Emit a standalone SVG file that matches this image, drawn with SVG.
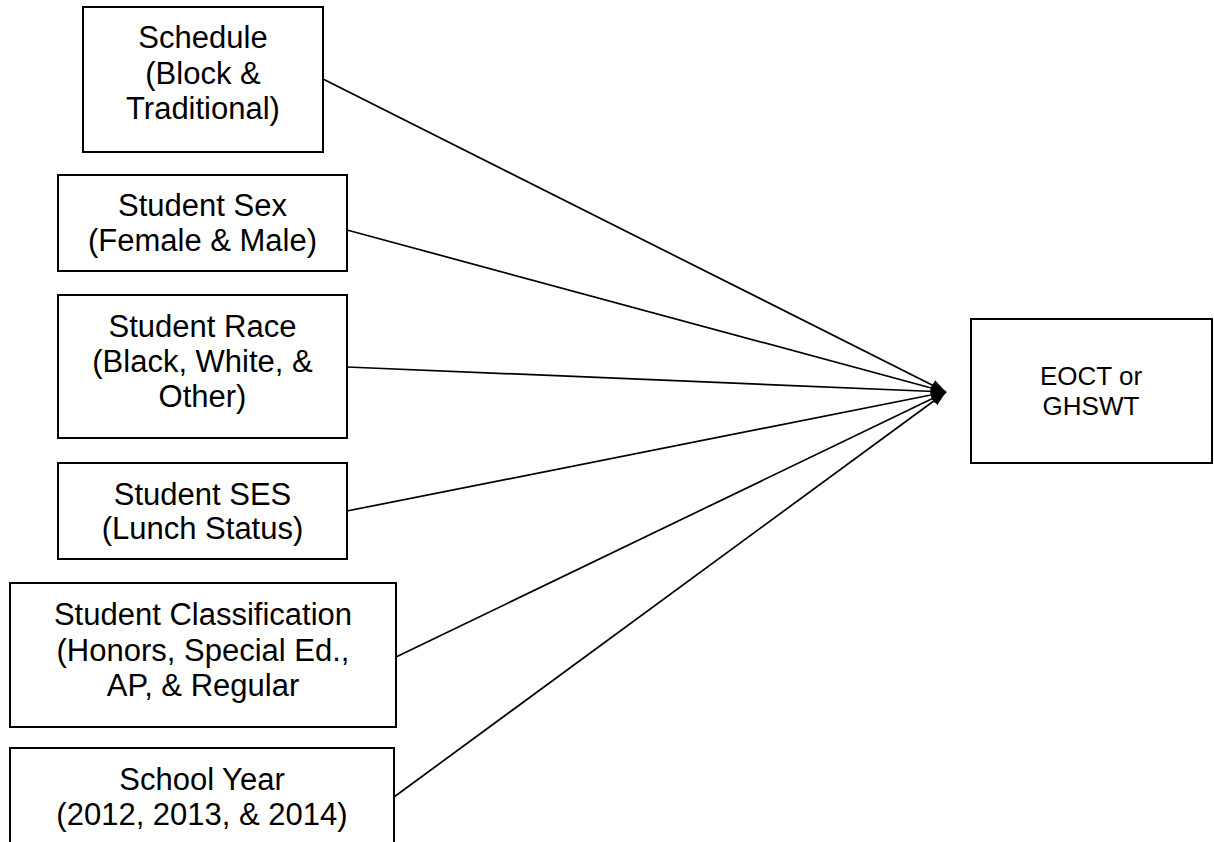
<svg xmlns="http://www.w3.org/2000/svg" width="1214" height="842" viewBox="0 0 1214 842">
<style>
.box{fill:#fff;stroke:#000;stroke-width:2}
.lbl{font-family:"Liberation Sans",Arial,Helvetica,sans-serif;font-size:31px;fill:#000;text-anchor:middle}
.out{font-family:"Liberation Sans",Arial,Helvetica,sans-serif;font-size:26px;fill:#000;text-anchor:middle}
.conn{stroke:#000;stroke-width:1.7;fill:none;marker-end:url(#ah)}
</style>
<defs>
<marker id="ah" markerUnits="userSpaceOnUse" markerWidth="16" markerHeight="12" refX="15" refY="6" orient="auto">
<path d="M0,0.5 L15,6 L0,11.5 Z" fill="#000"/>
</marker>
</defs>
<rect width="1214" height="842" fill="#fff"/>
<g id="connectors">
<line class="conn" x1="323" y1="79" x2="946" y2="392"/>
<line class="conn" x1="347" y1="230" x2="946" y2="392"/>
<line class="conn" x1="347" y1="367" x2="946" y2="392"/>
<line class="conn" x1="347" y1="511" x2="946" y2="392"/>
<line class="conn" x1="396" y1="657" x2="946" y2="392"/>
<line class="conn" x1="394" y1="797" x2="946" y2="392"/>
</g>
<g id="schedule">
<rect class="box" x="83" y="7" width="240" height="145"/>
<text class="lbl" x="203" y="48">Schedule</text>
<text class="lbl" x="203" y="84">(Block &amp;</text>
<text class="lbl" x="203" y="119">Traditional)</text>
</g>
<g id="sex">
<rect class="box" x="58" y="175" width="289" height="96"/>
<text class="lbl" x="202.5" y="216">Student Sex</text>
<text class="lbl" x="202.5" y="251">(Female &amp; Male)</text>
</g>
<g id="race">
<rect class="box" x="58" y="295" width="289" height="143"/>
<text class="lbl" x="202.5" y="337">Student Race</text>
<text class="lbl" x="202.5" y="372">(Black, White, &amp;</text>
<text class="lbl" x="202.5" y="407">Other)</text>
</g>
<g id="ses">
<rect class="box" x="58" y="463" width="289" height="96"/>
<text class="lbl" x="202.5" y="505">Student SES</text>
<text class="lbl" x="202.5" y="539">(Lunch Status)</text>
</g>
<g id="classification">
<rect class="box" x="10" y="583" width="386" height="144"/>
<text class="lbl" x="203" y="625">Student Classification</text>
<text class="lbl" x="203" y="661">(Honors, Special Ed.,</text>
<text class="lbl" x="203" y="696">AP, &amp; Regular</text>
</g>
<g id="year">
<rect class="box" x="10" y="748" width="384" height="120"/>
<text class="lbl" x="202" y="790">School Year</text>
<text class="lbl" x="202" y="825">(2012, 2013, &amp; 2014)</text>
</g>
<g id="outcome">
<rect class="box" x="971" y="319" width="241" height="144"/>
<text class="out" x="1091" y="385">EOCT or</text>
<text class="out" x="1091" y="415">GHSWT</text>
</g>
</svg>
